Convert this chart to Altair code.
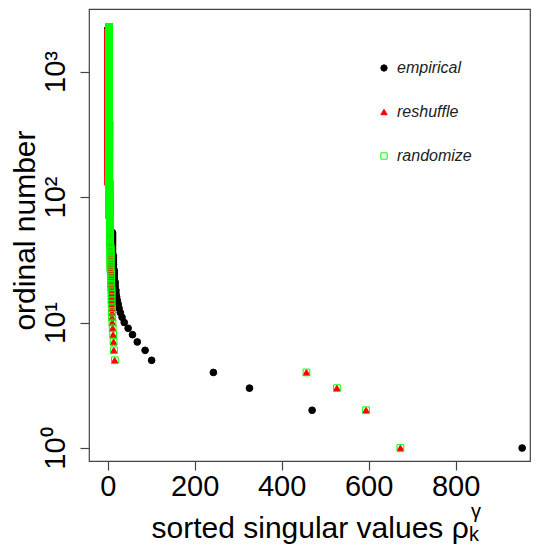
import altair as alt
import pandas as pd

# ---- data ----
series_names = ["empirical", "reshuffle", "randomize"]
series_fill = ["#000000", "#FF0000", "transparent"]
series_stroke = ["#000000", "#FF0000", "#00FF00"]
series_shape = ["circle", "triangle-up", "square"]

# singular values for the leading ranks (rank 1, 2, 3, ...)
emp_head = [953, 470, 326, 243, 101, 86, 68, 57, 47, 38, 33, 29, 26, 24, 22, 20.5]
# (first rank, last rank, value) blocks for the dense tail
emp_tail = [(17, 18, 19), (19, 21, 17), (22, 26, 15), (27, 34, 13), (35, 52, 11),
            (53, 100, 5), (101, 400, 3.5), (401, 2260, 2.5)]

resh_head = [673, 594, 527, 457, 16, 14, 13.5, 12.5, 11.5, 10.5]
resh_tail = [(11, 13, 10), (14, 18, 9), (19, 25, 8), (26, 40, 6.5), (41, 70, 5),
             (71, 130, 3.5), (131, 2260, 1.0)]

rand_head = [673, 594, 527, 457, 16.5, 14.5, 13.5, 12.5, 11.5, 11]
rand_tail = [(11, 13, 10), (14, 18, 9), (19, 25, 8), (26, 40, 6.5), (41, 70, 5),
             (71, 130, 4), (131, 2260, 2.8)]

x_ticks = [0, 200, 400, 600, 800]
y_ticks = [1, 10, 100, 1000]


def expand(name, head, tail):
    rows = []
    for i, v in enumerate(head):
        rows.append({"series": name, "value": v, "rank": i + 1})
    for a, b, v in tail:
        for r in range(a, b + 1):
            rows.append({"series": name, "value": v, "rank": r})
    return rows


rows = (expand("empirical", emp_head, emp_tail)
        + expand("reshuffle", resh_head, resh_tail)
        + expand("randomize", rand_head, rand_tail))
df = pd.DataFrame(rows)

FONT = "Liberation Sans"
W, H = 441, 452


def legend_spec():
    return alt.Legend(title=None, orient="none", legendX=287, legendY=51,
                      labelFont=FONT, labelFontSize=16,
                      labelFontStyle="italic", labelColor="#222",
                      symbolSize=40, symbolStrokeWidth=1,
                      rowPadding=28, labelOffset=5, padding=0)


points = alt.Chart(df).mark_point(opacity=1, strokeWidth=1, size=45).encode(
    x=alt.X("value:Q",
            scale=alt.Scale(domain=[-43, 971], nice=False, zero=False),
            axis=alt.Axis(values=x_ticks, title="sorted singular values \u03c1",
                          labelFontSize=29, labelPadding=2, labelFont=FONT,
                          labelColor="black", labelFlush=False,
                          titleFont=FONT, titleFontSize=30, titleFontWeight="normal",
                          titleColor="black", titleAlign="left", titleAnchor="start",
                          titleX=62, titleY=76, titleBaseline="alphabetic")),
    y=alt.Y("rank:Q",
            scale=alt.Scale(type="log", domain=[0.788, 3148], nice=False),
            axis=alt.Axis(values=y_ticks,
                          labelExpr="datum.value == 1 ? '10\u2070' : datum.value == 10 ? '10\u00b9' : datum.value == 100 ? '10\u00b2' : '10\u00b3'",
                          labelAngle=270, labelAlign="center", labelBaseline="alphabetic",
                          labelPadding=16, labelFontSize=29, labelFont=FONT,
                          labelColor="black", labelFlush=False,
                          title="ordinal number", titleFont=FONT, titleFontSize=30,
                          titleFontWeight="normal", titleColor="black",
                          titleAngle=270, titleAlign="center", titleBaseline="alphabetic",
                          titleX=-55, titleY=221)),
    shape=alt.Shape("series:N", scale=alt.Scale(domain=series_names, range=series_shape),
                    legend=legend_spec()),
    fill=alt.Fill("series:N", scale=alt.Scale(domain=series_names, range=series_fill),
                  legend=legend_spec()),
    stroke=alt.Stroke("series:N", scale=alt.Scale(domain=series_names, range=series_stroke),
                      legend=legend_spec()),
)

gamma = alt.Chart(pd.DataFrame({"t": ["\u03b3"]})).mark_text(
    font=FONT, fontSize=20, align="left", baseline="alphabetic", color="black"
).encode(text="t:N", x=alt.value(382), y=alt.value(509))

sub_k = alt.Chart(pd.DataFrame({"t": ["k"]})).mark_text(
    font=FONT, fontSize=20, align="left", baseline="alphabetic", color="black"
).encode(text="t:N", x=alt.value(380), y=alt.value(532))

chart = alt.layer(points, gamma, sub_k).properties(
    width=W, height=H,
    autosize=alt.AutoSizeParams(type="none"),
    padding={"left": 81, "top": 1, "right": 1, "bottom": 85},
).configure_view(stroke="#444", strokeWidth=1.2).configure_axis(
    domain=False, grid=False, tickColor="#444", tickSize=9, tickWidth=1.2
)

chart.save("out.html", embed_options={"renderer": "svg", "actions": False})
